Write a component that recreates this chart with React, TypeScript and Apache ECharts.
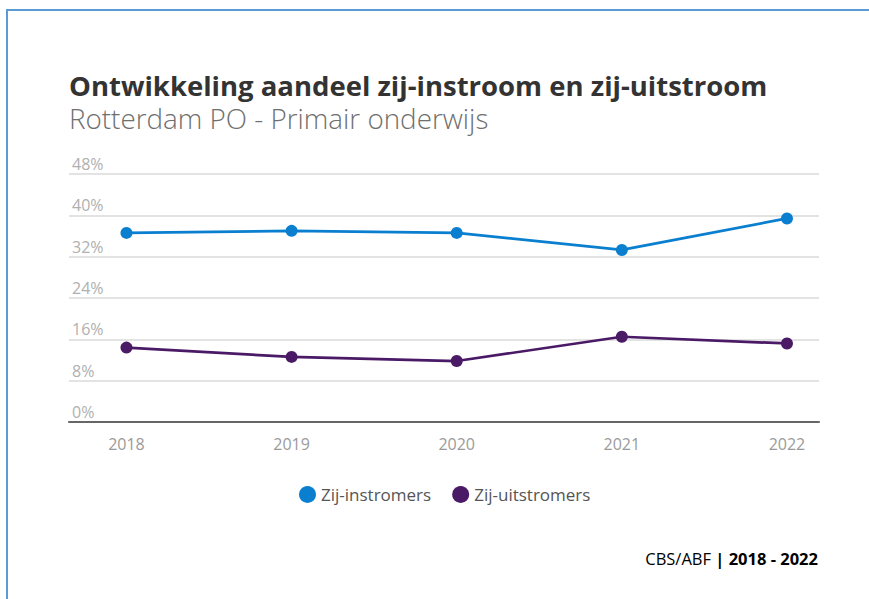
import React, { useEffect, useRef } from "react";
import * as echarts from "echarts";

const years = [2018, 2019, 2020, 2021, 2022];
const instromers = [36.6, 37.0, 36.6, 33.3, 39.4];
const uitstromers = [14.4, 12.6, 11.8, 16.5, 15.2];
const seriesNames = ["Zij-instromers", "Zij-uitstromers"];
const titleText = "Ontwikkeling aandeel zij-instroom en zij-uitstroom";
const subtitleText = "Rotterdam PO - Primair onderwijs";

const FONT = "'Open Sans', 'Noto Sans', sans-serif";

export default function App() {
  const ref = useRef<HTMLDivElement>(null);
  useEffect(() => {
    if (!ref.current) return;
    const chart = echarts.init(ref.current, undefined, { renderer: "svg" });
    const toPairs = (arr: number[]) => years.map((y, i) => [y, arr[i]]);
    chart.setOption({
      animation: false,
      backgroundColor: "#ffffff",
      textStyle: { fontFamily: FONT },
      legend: {
        data: seriesNames,
        left: 294,
        top: 481,
        icon: "circle",
        itemWidth: 17,
        itemHeight: 17,
        itemGap: 21,
        textStyle: { fontFamily: FONT, fontSize: 17, color: "#555555" },
      },
      grid: { left: 69, right: 50, top: 174, bottom: 177, containLabel: false },
      xAxis: {
        type: "value",
        min: 2017.652,
        max: 2022.194,
        splitLine: { show: false },
        axisTick: { show: false },
        axisLine: { show: true, lineStyle: { color: "#666666", width: 2 } },
        axisLabel: {
          customValues: years,
          formatter: (v: number) => String(Math.round(v)),
          color: "#9a9a9a",
          fontSize: 16,
          margin: 14,
          fontFamily: FONT,
        },
      },
      yAxis: {
        type: "value",
        min: 0,
        max: 48,
        interval: 8,
        axisLine: { show: false },
        axisTick: { show: false },
        splitLine: { show: true, lineStyle: { color: "#e3e3e3", width: 2 } },
        axisLabel: {
          inside: true,
          formatter: "{value}%",
          color: "#b0b0b0",
          fontSize: 16,
          verticalAlign: "bottom",
          margin: 3,
          padding: [0, 0, 2, 0],
          fontFamily: FONT,
        },
      },
      series: [
        {
          name: seriesNames[0],
          type: "line",
          data: toPairs(instromers),
          color: "#0a7fcf",
          symbol: "circle",
          symbolSize: 12,
          lineStyle: { width: 2.7 },
        },
        {
          name: seriesNames[1],
          type: "line",
          data: toPairs(uitstromers),
          color: "#4b1a66",
          symbol: "circle",
          symbolSize: 12,
          lineStyle: { width: 2.7 },
        },
      ],
      graphic: [
        {
          type: "line",
          shape: { x1: 7, y1: 10, x2: 7, y2: 599 },
          style: { stroke: "#5b9bd5", lineWidth: 2 },
        },
        {
          type: "line",
          shape: { x1: 6, y1: 10, x2: 869, y2: 10 },
          style: { stroke: "#5b9bd5", lineWidth: 2 },
        },
        {
          type: "text",
          x: 69,
          y: 85.5,
          style: {
            text: titleText,
            fontFamily: FONT,
            fontSize: 27.5,
            lineHeight: 28,
            fontWeight: "bold",
            fill: "#333333",
            align: "left",
            verticalAlign: "middle",
          },
        },
        {
          type: "text",
          x: 69,
          y: 117.5,
          style: {
            text: subtitleText,
            fontFamily: FONT,
            fontSize: 27.8,
            lineHeight: 28,
            fontWeight: 300,
            fill: "#6f6f6f",
            align: "left",
            verticalAlign: "middle",
          },
        },
        {
          type: "text",
          x: 818,
          y: 558,
          style: {
            text: "{a|CBS/ABF }{b||}{c| 2018 - 2022}",
            align: "right",
            verticalAlign: "middle",
            rich: {
              a: { fontFamily: FONT, fontSize: 16.5, color: "#666666" },
              b: { fontFamily: FONT, fontSize: 16.5, color: "#4b1a66", fontWeight: "bold" },
              c: { fontFamily: FONT, fontSize: 16.5, color: "#3a3a3a", fontWeight: "bold" },
            },
          },
        },
      ],
    });
    return () => chart.dispose();
  }, []);
  return (
    <div
      ref={ref}
      style={{ position: "absolute", left: 0, top: 0, width: 869, height: 599 }}
    />
  );
}
